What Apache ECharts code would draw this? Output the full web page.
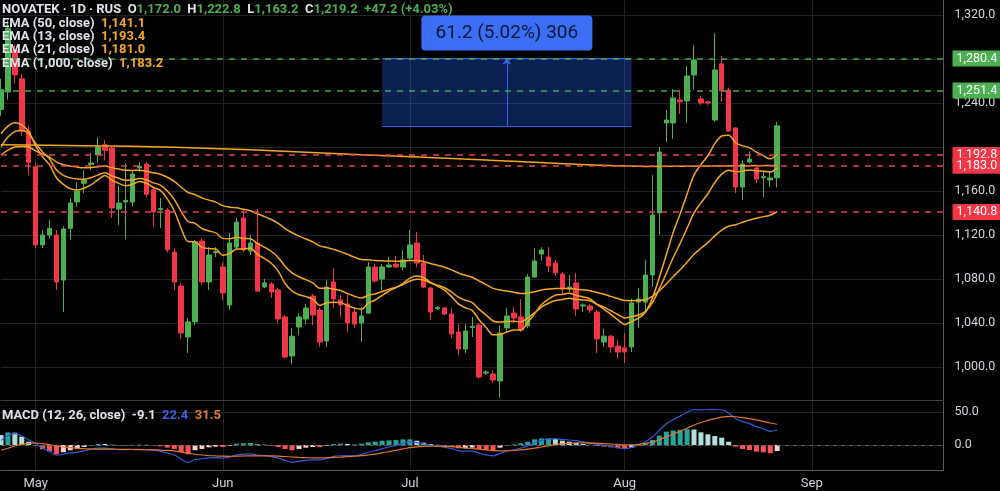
<!DOCTYPE html>
<html>
<head>
<meta charset="utf-8">
<script src="https://cdn.jsdelivr.net/npm/echarts@6/dist/echarts.min.js"></script>
<style>
  html, body { margin: 0; padding: 0; background: #000; }
  #chart { width: 1000px; height: 491px; }
</style>
</head>
<body>
<div id="chart"></div>
<script>
// NOVATEK daily bars, index 0 = end of April, 113 bars, then empty days up to mid Sep
const SLOTS = 137
const monthTicks = { 5: 'May', 32: 'Jun', 59: 'Jul', 90: 'Aug', 117: 'Sep' }

const opens = [1234, 1250, 1288, 1262, 1214.5, 1182, 1111, 1120, 1120, 1079,
  1126, 1150, 1167, 1184, 1192.7, 1202, 1199, 1143.6, 1150, 1150,
  1181, 1184.5, 1161, 1143, 1142.7, 1104.5, 1073.6, 1027.3, 1041, 1114.5,
  1077.3, 1104, 1091, 1056.4, 1109, 1135.5, 1105.5, 1112.7, 1072.7, 1075.5,
  1070, 1045.5, 1010, 1036.4, 1043.6, 1064.5, 1051.8, 1023.6, 1077.3, 1061,
  1057.3, 1050, 1040, 1049, 1090.9, 1080, 1090.9, 1093.6, 1090.9, 1099,
  1112.7, 1094.5, 1071.8, 1053, 1053.6, 1048.2, 1031.8, 1016.4, 1036, 1038.2,
  994.5, 993.6, 987.3, 1035.5, 1049, 1045.5, 1037.3, 1081.8, 1102.7, 1100,
  1094.5, 1084.5, 1070.9, 1076.4, 1055.5, 1055.5, 1050, 1022.7, 1028, 1019,
  1017.3, 1018.2, 1059, 1059, 1083.6, 1140, 1221.8, 1221.8, 1242.7, 1241.8,
  1265.5, 1243.6, 1241, 1224.5, 1275.5, 1251.8, 1217.3, 1163.6, 1186.4, 1180.9,
  1172, 1170, 1172.0]
const closes = [1252, 1308, 1265.5, 1214.5, 1186, 1111, 1120, 1126, 1077.3, 1125.5,
  1149, 1160, 1170, 1185.5, 1200, 1197, 1144.5, 1149, 1151.5, 1175.5,
  1182.5, 1157, 1141, 1144, 1106.4, 1077.3, 1031, 1041, 1113.6, 1077.3,
  1101.8, 1105, 1067.3, 1112.7, 1131.8, 1106.4, 1112.7, 1069, 1076.4, 1068.2,
  1043.6, 1009, 1028, 1045.5, 1053.6, 1047.3, 1022.7, 1072.7, 1061.8, 1056.4,
  1040, 1039, 1046.4, 1090.9, 1078.2, 1090.9, 1092.7, 1090.9, 1097.3, 1110.9,
  1094.5, 1072.7, 1050, 1054, 1048.2, 1030, 1016.4, 1032.7, 1037, 990.9,
  995.5, 988.2, 1030.9, 1046.4, 1044.5, 1033.6, 1081.8, 1096.4, 1106.4, 1091.8,
  1085.5, 1070.9, 1072.7, 1052.7, 1056.4, 1051.8, 1025.5, 1028, 1018.2, 1013.6,
  1013.6, 1058.2, 1061.8, 1083.6, 1138.2, 1195.5, 1224.5, 1244.5, 1241, 1264.5,
  1279, 1240, 1240, 1270, 1251, 1214.5, 1163.6, 1184.5, 1189, 1170.9,
  1173, 1171.8, 1219.2]
const lows = [1228, 1243, 1258, 1210, 1174.5, 1108, 1108, 1117, 1070, 1050,
  1115.5, 1145.5, 1158, 1179, 1186, 1188, 1135.5, 1129, 1116, 1146,
  1177, 1154.5, 1127.3, 1126.4, 1104, 1070, 1025.5, 1012.7, 1038, 1075,
  1070, 1100, 1061, 1052, 1106, 1104.5, 1101.8, 1068.2, 1071.8, 1062.7,
  1040, 1008, 1002.7, 1029, 1039, 1038, 1018.2, 1018.2, 1053.6, 1045.5,
  1031.8, 1035.5, 1022.7, 1048, 1076.4, 1070, 1090, 1090, 1088, 1097.3,
  1090.9, 1071.8, 1042.7, 1051.8, 1047, 1026.4, 1010.9, 1012.7, 1027.3, 989.1,
  993, 985.5, 972, 1031.8, 1040, 1031.8, 1035.5, 1081, 1096.4, 1086.4,
  1082.7, 1066.4, 1068.2, 1046.4, 1050, 1049, 1012.7, 1018.2, 1013, 1008,
  1003.6, 1013.6, 1035.5, 1050, 1072.7, 1120, 1204.5, 1207.3, 1230, 1221.8,
  1251.8, 1238, 1238, 1222.7, 1241, 1214, 1158.2, 1151.8, 1185, 1167.3,
  1154.5, 1163.6, 1163.2]
const highs = [1262, 1315, 1293, 1266, 1219, 1185, 1124.5, 1133.6, 1124.5, 1128,
  1153.6, 1168, 1179, 1194.5, 1209, 1206, 1200, 1165, 1185, 1179,
  1186, 1186.4, 1163, 1153.6, 1144.5, 1108, 1076.4, 1044.5, 1115.5, 1117,
  1109, 1109, 1095, 1121.8, 1135.5, 1143, 1120, 1143.6, 1080, 1077,
  1072, 1047.3, 1035.5, 1049, 1057.3, 1066.4, 1054, 1079, 1090, 1065.5,
  1065.5, 1054.5, 1054.5, 1095.5, 1093.6, 1093.6, 1100, 1101, 1106.4, 1124.5,
  1122.7, 1101.8, 1072.7, 1055.5, 1055, 1053.6, 1039, 1039, 1045.5, 1040,
  997, 997, 1038, 1053.6, 1054.5, 1061.8, 1084.5, 1108, 1109, 1109,
  1097.3, 1086.4, 1083.6, 1085.5, 1058, 1057, 1051.8, 1034.5, 1029, 1024.5,
  1031, 1061.8, 1071.8, 1097.3, 1174.5, 1200, 1233.6, 1252.7, 1251.8, 1273.6,
  1292.7, 1247, 1242, 1303.6, 1282.7, 1254, 1218, 1188, 1196, 1182,
  1178, 1178, 1222.8]

const ema13 = [1212, 1219, 1222, 1220, 1214, 1201, 1191, 1184, 1172, 1166,
  1162, 1161, 1162.5, 1165.5, 1170.3, 1174.1, 1169.9, 1166.9, 1164.7, 1166.2,
  1168.6, 1166.9, 1163.2, 1160.5, 1152.8, 1142, 1126.1, 1114, 1113.9, 1108.7,
  1107.7, 1107.3, 1101.6, 1103.2, 1107.3, 1107.2, 1108, 1102.4, 1098.7, 1094.3,
  1087.1, 1075.9, 1069.1, 1065.7, 1064, 1061.6, 1056, 1058.4, 1058.9, 1058.5,
  1055.9, 1053.5, 1052.5, 1058, 1060.9, 1065.2, 1069.1, 1072.2, 1075.8, 1080.8,
  1082.8, 1081.3, 1076.8, 1073.5, 1069.9, 1064.2, 1057.4, 1053.9, 1051.5, 1042.8,
  1036, 1029.2, 1029.4, 1031.8, 1033.6, 1033.6, 1040.5, 1048.5, 1056.8, 1061.8,
  1065.2, 1066, 1067, 1065, 1063.7, 1062, 1056.8, 1052.7, 1047.8, 1042.9,
  1038.7, 1041.5, 1044.4, 1050, 1062.6, 1081.6, 1102, 1122.4, 1139.3, 1157.2,
  1174.6, 1184, 1192, 1203, 1210, 1210.6, 1203.9, 1201, 1199.4, 1195.3,
  1192.1, 1189.2, 1193.4]
const ema21 = [1200, 1209, 1214, 1214.9, 1212.3, 1203.1, 1195.5, 1189.2, 1179, 1174.2,
  1171.9, 1170.8, 1170.7, 1172.1, 1174.6, 1176.6, 1173.7, 1171.5, 1169.7, 1170.2,
  1171.3, 1170, 1167.4, 1165.3, 1159.9, 1152.4, 1141.4, 1132.3, 1130.6, 1125.8,
  1123.6, 1121.9, 1116.9, 1116.5, 1117.9, 1116.9, 1116.5, 1112.2, 1108.9, 1105.2,
  1099.6, 1091.4, 1085.6, 1082, 1079.4, 1076.5, 1071.6, 1071.7, 1070.8, 1069.5,
  1066.8, 1064.3, 1062.7, 1065.2, 1066.4, 1068.6, 1070.8, 1072.6, 1074.9, 1078.2,
  1079.7, 1079, 1076.4, 1074.4, 1072, 1068.2, 1063.5, 1060.7, 1058.5, 1052.4,
  1047.2, 1041.8, 1040.8, 1041.3, 1041.6, 1040.9, 1044.6, 1049.3, 1054.5, 1057.9,
  1060.4, 1061.4, 1062.4, 1061.5, 1061, 1060.2, 1057, 1054.4, 1051.1, 1047.7,
  1044.6, 1045.8, 1047.3, 1050.6, 1058.6, 1071, 1085, 1099.5, 1112.4, 1126.2,
  1140.1, 1149.2, 1157.5, 1167.7, 1175.3, 1178.9, 1177.5, 1178.1, 1179.1, 1178.4,
  1177.9, 1177.3, 1181]
const ema50 = [1192.7, 1197.2, 1199.9, 1200.5, 1199.9, 1196.4, 1193.4, 1190.8, 1186.3, 1183.9,
  1182.6, 1181.7, 1181.2, 1181.4, 1182.1, 1182.7, 1181.2, 1179.9, 1178.8, 1178.7,
  1178.8, 1178, 1176.5, 1175.2, 1172.5, 1168.8, 1163.4, 1158.6, 1156.8, 1153.7,
  1151.7, 1149.9, 1146.7, 1145.3, 1144.8, 1143.3, 1142.1, 1139.2, 1136.8, 1134.1,
  1130.6, 1125.8, 1122, 1119, 1116.4, 1113.7, 1110.1, 1108.7, 1106.9, 1104.9,
  1102.4, 1099.9, 1097.8, 1097.5, 1096.8, 1096.5, 1096.4, 1096.2, 1096.2, 1096.8,
  1096.7, 1095.8, 1094, 1092.4, 1090.7, 1088.3, 1085.5, 1083.4, 1081.6, 1078.2,
  1074.9, 1071.5, 1069.9, 1069, 1068, 1066.7, 1067.3, 1068.4, 1069.9, 1070.8,
  1071.4, 1071.4, 1071.4, 1070.7, 1070.1, 1069.4, 1067.7, 1066.1, 1064.2, 1062.3,
  1060.4, 1060.3, 1060.4, 1061.3, 1064.3, 1069.4, 1075.5, 1082.1, 1088.4, 1095.3,
  1102.5, 1107.9, 1113.1, 1119.2, 1124.4, 1127.9, 1129.3, 1131.5, 1133.7, 1135.2,
  1136.7, 1138, 1141.1]
// ema 1000 read at a few bars only (almost flat)
const ema1000 = [[0, 1202], [12, 1201.2], [25, 1199.8], [36, 1197.4], [52, 1193],
  [70, 1188.2], [93, 1182.3], [103, 1182.8], [112, 1183.2]]

const macdHist = [15, 19, 18.7, 12.6, 5, -0.5, -6.5, -10, -14, -11,
  -8, -6, -3, -0.5, 1.5, 1.5, 0.5, -0.5, -0.5, 0.3,
  0.5, 0.3, -0.5, -2, -4, -6, -11, -14, -8, -6,
  -3.5, -2.5, -3, -1, 2, 2.5, 3, 1, 0.5, -1,
  -3, -6, -8, -6, -4, -3, -3.3, -1, 1.5, 2,
  1.5, 0.5, 2, 4, 5, 6.5, 7, 7.5, 8.5, 8.6,
  6.5, 3.5, 1.5, 0.3, -1.5, -3, -5, -5, -4, -6,
  -7.5, -8, -4, -0.5, 1, 2.5, 5, 8.6, 10, 10.1,
  9, 6.6, 5, 3.5, 1.5, 0.3, -1.5, -2.5, -3.5, -5,
  -6, -4, -0.5, 2.5, 7.6, 14.1, 20.2, 22, 22.8, 23.8,
  23.5, 19.2, 16.2, 13.6, 11.1, 5, -2.5, -6.1, -7.6, -10.1,
  -11.1, -12.6, -9.1]
const macdLine = [7, 14, 17.2, 13.6, 7.5, 2.5, -4.5, -9.5, -15.5, -14,
  -12, -11, -8.6, -6.5, -4.7, -4.8, -5.9, -7, -7.1, -6.5,
  -6.5, -6.9, -7.9, -9.7, -12.2, -15, -21.5, -26.5, -22, -21.2,
  -19.5, -19.1, -20, -18.2, -15, -14.2, -13.5, -15.4, -15.9, -17.5,
  -19.8, -23.4, -26.2, -24.8, -23.2, -22.4, -22.7, -20.2, -17.3, -16.3,
  -16.2, -16.5, -14.2, -11, -8.7, -5.5, -3, -0.5, 2.5, 4.6,
  3.7, 1.5, -0.2, -1.4, -3.5, -5.6, -8.5, -9.5, -9.3, -12.3,
  -15, -16.5, -13, -9.3, -7.3, -5, -1.3, 3.8, 7, 8.9,
  9.5, 8.4, 7.6, 6.5, 4.6, 3.2, 1, -0.4, -2, -4.2,
  -5.7, -3.7, 0.3, 5, 12.1, 22, 32.1, 38.5, 43.8, 49.3,
  53.8, 53.3, 53.5, 53.7, 53.4, 48.3, 40.3, 35.5, 32.4, 27.9,
  24.7, 20.7, 22.4]
const signalLine = [-8, -5, -1.5, 1, 2.5, 3, 2, 0.5, -1.5, -3,
  -4, -5, -5.6, -6, -6.2, -6.3, -6.4, -6.5, -6.6, -6.8,
  -7, -7.2, -7.4, -7.7, -8.2, -9, -10.5, -12.5, -14, -15.2,
  -16, -16.6, -17, -17.2, -17, -16.7, -16.5, -16.4, -16.4, -16.5,
  -16.8, -17.4, -18.2, -18.8, -19.2, -19.4, -19.4, -19.2, -18.8, -18.3,
  -17.7, -17, -16.2, -15, -13.7, -12, -10, -8, -6, -4,
  -2.8, -2, -1.7, -1.7, -2, -2.6, -3.5, -4.5, -5.3, -6.3,
  -7.5, -8.5, -9, -8.8, -8.3, -7.5, -6.3, -4.8, -3, -1.2,
  0.5, 1.8, 2.6, 3, 3.1, 2.9, 2.5, 2.1, 1.5, 0.8,
  0.3, 0.3, 0.8, 2.5, 4.5, 7.9, 11.9, 16.5, 21, 25.5,
  30.3, 34.1, 37.3, 40.1, 42.3, 43.3, 42.8, 41.6, 40, 38,
  35.8, 33.3, 31.5]

// horizontal levels drawn on the chart
const levelValues = [1280.4, 1251.4, 1192.8, 1183.0, 1140.8]
const levelSide = ['up', 'up', 'down', 'down', 'down']
// price range measure
const measureBars = [55, 73, 91]
const measurePrices = [1219.2, 1280.4, 1303.6]
const measureText = '61.2 (5.02%) 306'

// grid lines at every 40, labels hidden where the level boxes sit (1200, 1280)
const priceGrid = [1000, 1040, 1080, 1120, 1160, 1200, 1240, 1280, 1320]
const priceLabels = [1000, 1040, 1080, 1120, 1160, 1240, 1320]
const macdTicks = [0, 50]

const UP = '#4caf50'
const DOWN = '#f23645'
const EMA_C = '#f5a623'

function fmt (v) {
  const parts = Number(v).toFixed(1).split('.')
  return parts[0].replace(/\B(?=(\d{3})+(?!\d))/g, ',') + '.' + parts[1]
}

const cats = Array.from({ length: SLOTS }, (_, i) => String(i))
const isMonth = i => monthTicks[i] !== undefined
const candles = opens.map((o, i) => [o, closes[i], lows[i], highs[i]])

const chart = echarts.init(document.getElementById('chart'))

const FS = 13
const legendRich = {
  w: { color: '#e0e3eb', fontSize: FS, lineHeight: 14 },
  g: { color: UP, fontSize: FS, lineHeight: 14 },
  o: { color: EMA_C, fontSize: FS, lineHeight: 14 },
  b: { color: '#3b63e0', fontSize: FS, lineHeight: 14 },
  r: { color: '#e07a2f', fontSize: FS, lineHeight: 14 }
}
const legendRow = (text, top) => ({
  text, left: 2, top, padding: 0,
  textStyle: { rich: legendRich, fontSize: FS, lineHeight: 14, color: '#e0e3eb' }
})

const option = {
  backgroundColor: '#000',
  animation: false,
  textStyle: { fontFamily: 'Roboto, "Noto Sans", sans-serif' },
  title: [
    legendRow('{w|NOVATEK · 1D · RUS}  {w|O}{g|1,172.0}  {w|H}{g|1,222.8}  {w|L}{g|1,163.2}  {w|C}{g|1,219.2}  {g|+47.2 (+4.03%)}', 3),
    legendRow('{w|EMA (50, close)}  {o|1,141.1}', 17),
    legendRow('{w|EMA (13, close)}  {o|1,193.4}', 30),
    legendRow('{w|EMA (21, close)}  {o|1,181.0}', 43),
    legendRow('{w|EMA (1,000, close)}  {o|1,183.2}', 57),
    legendRow('{w|MACD (12, 26, close)}  {w|-9.1}  {b|22.4}  {r|31.5}', 409)
  ],
  grid: [
    { left: 1, right: 56.5, top: 0, height: 400 },
    { left: 1, right: 56.5, top: 401, height: 69 }
  ],
  xAxis: [
    {
      type: 'category', gridIndex: 0, data: cats, boundaryGap: false,
      axisLine: { show: true, onZero: false, lineStyle: { color: '#3c3c3c' } },
      axisTick: { show: false },
      axisLabel: { show: false },
      splitLine: { show: true, interval: i => isMonth(i), lineStyle: { color: '#222' } }
    },
    {
      type: 'category', gridIndex: 1, data: cats, boundaryGap: false,
      axisLine: { show: true, onZero: false, lineStyle: { color: '#5a5a5a' } },
      axisTick: { show: false },
      axisLabel: {
        interval: i => isMonth(i),
        formatter: (v, i) => monthTicks[i] || '',
        color: '#d1d4dc', fontSize: 13, margin: 7
      },
      splitLine: { show: true, interval: i => isMonth(i), lineStyle: { color: '#222' } }
    }
  ],
  yAxis: [
    {
      type: 'value', gridIndex: 0, position: 'right', min: 970, max: 1333.6,
      axisLine: { show: true, lineStyle: { color: '#5a5a5a' } },
      axisTick: { show: false, customValues: priceGrid },
      axisLabel: { customValues: priceLabels, formatter: fmt, color: '#d1d4dc', fontSize: 12.5, margin: 11 },
      splitLine: { show: true, lineStyle: { color: '#222' } }
    },
    {
      type: 'value', gridIndex: 1, position: 'right', min: -37.9, max: 66.7,
      axisLine: { show: true, lineStyle: { color: '#5a5a5a' } },
      axisTick: { show: false, customValues: macdTicks },
      axisLabel: { customValues: macdTicks, formatter: fmt, color: '#d1d4dc', fontSize: 12.5, margin: 11 },
      splitLine: { show: true, lineStyle: { color: '#222' } }
    }
  ],
  series: [
    {
      name: 'NOVATEK',
      type: 'candlestick',
      xAxisIndex: 0,
      yAxisIndex: 0,
      data: candles,
      barWidth: 5,
      itemStyle: { color: UP, color0: DOWN, borderColor: UP, borderColor0: DOWN, borderWidth: 1 },
      markArea: {
        silent: true,
        label: { show: false },
        itemStyle: { color: 'rgba(41, 98, 255, 0.32)' },
        data: [[{ coord: [measureBars[0], measurePrices[1]] }, { coord: [measureBars[2], measurePrices[0]] }]]
      },
      markLine: {
        silent: true,
        symbol: 'none',
        data: [
          [{ coord: [measureBars[0], measurePrices[0]] }, { coord: [measureBars[2], measurePrices[0]], lineStyle: { color: '#2f66f2', type: 'solid', width: 1 }, label: { show: false } }],
          [{ coord: [measureBars[0], measurePrices[1]] }, { coord: [measureBars[2], measurePrices[1]], lineStyle: { color: '#2f66f2', type: 'solid', width: 1 }, label: { show: false } }],
          [{ coord: [measureBars[1], measurePrices[0]], symbol: 'none' }, { coord: [measureBars[1], measurePrices[1]], symbol: 'arrow', symbolSize: [7, 6], lineStyle: { color: '#2f66f2', type: 'solid', width: 1 }, label: { show: false } }]
        ].concat(levelValues.map((v, i) => {
          const c = levelSide[i] === 'up' ? UP : DOWN
          return {
            yAxis: v,
            lineStyle: { color: levelSide[i] === 'up' ? '#45a556' : '#e0405a', type: [6, 6], width: 1.5 },
            label: {
              show: true, position: 'end', distance: 9, formatter: fmt(v),
              backgroundColor: c, color: '#fff', fontSize: 12.5, padding: [2, 4, 1, 4]
            }
          }
        }))
      },
      markPoint: {
        silent: true,
        symbol: 'rect',
        symbolSize: 1,
        itemStyle: { color: 'rgba(0,0,0,0)' },
        label: {
          show: true, position: 'inside', formatter: measureText,
          color: '#0c1733', fontSize: 19, lineHeight: 21,
          backgroundColor: '#3b6ef5', borderRadius: 4,
          padding: [7, 13, 7, 13], width: 145, align: 'center'
        },
        data: [{ coord: [measureBars[1], measurePrices[2]] }]
      }
    },
    { name: 'EMA 50', type: 'line', xAxisIndex: 0, yAxisIndex: 0, data: ema50, showSymbol: false, smooth: 0.3, z: 3, lineStyle: { color: EMA_C, width: 1.5 } },
    { name: 'EMA 13', type: 'line', xAxisIndex: 0, yAxisIndex: 0, data: ema13, showSymbol: false, smooth: 0.3, z: 3, lineStyle: { color: EMA_C, width: 1.5 } },
    { name: 'EMA 21', type: 'line', xAxisIndex: 0, yAxisIndex: 0, data: ema21, showSymbol: false, smooth: 0.3, z: 3, lineStyle: { color: EMA_C, width: 1.5 } },
    { name: 'EMA 1000', type: 'line', xAxisIndex: 0, yAxisIndex: 0, data: ema1000, showSymbol: false, smooth: 0.3, z: 3, lineStyle: { color: EMA_C, width: 1.5 } },
    {
      name: 'Histogram',
      type: 'bar',
      xAxisIndex: 1,
      yAxisIndex: 1,
      data: macdHist,
      barWidth: 5,
      itemStyle: {
        color: p => {
          const v = p.value
          const prev = p.dataIndex > 0 ? macdHist[p.dataIndex - 1] : v
          if (v >= 0) return v > prev ? '#26a69a' : '#b2dfdb'
          return v < prev ? '#ff5252' : '#ffcdd2'
        }
      },
      markLine: {
        silent: true,
        symbol: 'none',
        label: { show: false },
        lineStyle: { color: '#5d5d5d', type: [4, 4], width: 1 },
        data: [{ yAxis: 0 }]
      }
    },
    { name: 'MACD', type: 'line', xAxisIndex: 1, yAxisIndex: 1, data: macdLine, showSymbol: false, smooth: 0.3, z: 3, lineStyle: { color: '#2e5be0', width: 1.2 } },
    { name: 'Signal', type: 'line', xAxisIndex: 1, yAxisIndex: 1, data: signalLine, showSymbol: false, smooth: 0.3, z: 3, lineStyle: { color: '#e0772f', width: 1.2 } }
  ]
}

chart.setOption(option)
</script>
</body>
</html>
